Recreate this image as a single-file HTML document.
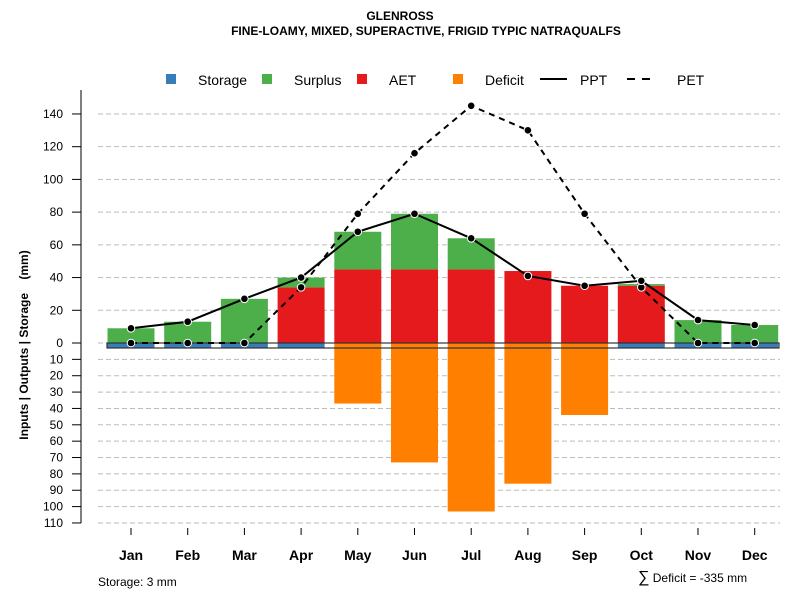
<!DOCTYPE html>
<html><head><meta charset="utf-8"><style>
html,body{margin:0;padding:0;background:#fff}
svg{display:block;font-family:"Liberation Sans",Arial,sans-serif}
</style></head><body>
<svg id="c" width="800" height="600" xmlns="http://www.w3.org/2000/svg">
<text x="400" y="20" text-anchor="middle" font-size="12" font-weight="bold">GLENROSS</text>
<text x="426" y="35" text-anchor="middle" font-size="12" font-weight="bold">FINE-LOAMY, MIXED, SUPERACTIVE, FRIGID TYPIC NATRAQUALFS</text>
<g font-size="14">
<rect x="166" y="74" width="10" height="10" fill="#377eb8"/>
<text x="198" y="85">Storage</text>
<rect x="262" y="74" width="10" height="10" fill="#4daf4a"/>
<text x="294" y="85">Surplus</text>
<rect x="357" y="74" width="10" height="10" fill="#e41a1c"/>
<text x="389" y="85">AET</text>
<rect x="453" y="74" width="10" height="10" fill="#ff7f00"/>
<text x="485" y="85">Deficit</text>
<line x1="540" y1="79" x2="567" y2="79" stroke="#000" stroke-width="2"/>
<text x="580" y="85">PPT</text>
<line x1="627" y1="79" x2="650" y2="79" stroke="#000" stroke-width="2" stroke-dasharray="8,7"/>
<text x="677" y="85">PET</text>
</g>
<text transform="translate(28,345) rotate(-90)" text-anchor="middle" font-size="12" font-weight="bold">Inputs | Outputs | Storage&#160;&#160;&#160;&#160;(mm)</text>
<text x="98" y="586" font-size="12">Storage: 3 mm</text>
<text x="638" y="582" font-size="12"><tspan font-size="16">∑</tspan> Deficit = -335 mm</text>
</svg>
<script>
const months=["Jan","Feb","Mar","Apr","May","Jun","Jul","Aug","Sep","Oct","Nov","Dec"];
const ppt=[9,13,27,40,68,79,64,41,35,38,14,11];
const pet=[0,0,0,34,79,116,145,130,79,34,0,0];
const aet=[0,0,0,34,45,45,45,44,35,35,0,0];
const surplus=[9,13,27,6,23,34,19,0,0,1,14,11];
const deficit=[0,0,0,0,37,73,103,86,44,0,0,0];
const storage=[3,3,3,3,0,0,0,0,0,3,3,3];
const upTicks=[0,20,40,60,80,100,120,140];
const downTicks=[10,20,30,40,50,60,70,80,90,100,110];
const NS="http://www.w3.org/2000/svg";
const svg=document.getElementById('c');
const y0=343,k=1.636;
function yUp(v){return y0-v*k;}
function yDn(v){return y0+v*k;}
function xC(i){return 131+i*56.7;}
const bw=47;
function mk(tag,attrs,parent){const e=document.createElementNS(NS,tag);for(const a in attrs)e.setAttribute(a,attrs[a]);(parent||svg).appendChild(e);return e;}
const grid=mk('g',{});


const axis=mk('g',{});


mk('line',{x1:81,y1:90,x2:81,y2:523,stroke:'#555','stroke-width':1.5},axis);
function tick(y,label){
  const g=mk('line',{x1:98,y1:y,x2:780,y2:y,stroke:'#bbb','stroke-dasharray':'5,3'},grid);
  
  
  mk('line',{x1:72,y1:y,x2:81,y2:y,stroke:'#000'},axis);
  const t=mk('text',{x:63,y:y+4,'text-anchor':'end','font-size':12},axis);t.textContent=label;
  
  
}
upTicks.forEach(v=>tick(yUp(v),String(v)));
downTicks.forEach(v=>tick(yDn(v),String(v)));
const bars=mk('g',{});


months.forEach((m,i)=>{
  const x=xC(i)-bw/2;
  if(aet[i]>0){const r=mk('rect',{x:x,y:yUp(aet[i]),width:bw,height:aet[i]*k,fill:'#e41a1c'},bars);}
  if(surplus[i]>0){const r=mk('rect',{x:x,y:yUp(aet[i]+surplus[i]),width:bw,height:surplus[i]*k,fill:'#4daf4a'},bars);}
  if(deficit[i]>0){const r=mk('rect',{x:x,y:y0,width:bw,height:deficit[i]*k,fill:'#ff7f00'},bars);}
  if(storage[i]>0){const r=mk('rect',{x:x,y:y0,width:bw,height:storage[i]*k,fill:'#377eb8'},bars);}
  const tl=mk('line',{x1:xC(i),y1:528,x2:xC(i),y2:535,stroke:'#000'});
  
  
  const t=mk('text',{x:xC(i),y:560,'text-anchor':'middle','font-size':14,'font-weight':'bold'});t.textContent=m;
  
  
});
const sb=mk('rect',{x:107,y:y0,width:672,height:5,fill:'none',stroke:'#333','stroke-width':1.2});


function series(vals,dash,name){
  const pts=vals.map((v,i)=>xC(i)+','+yUp(v)).join(' ');
  const p=mk('polyline',{points:pts,fill:'none',stroke:'#000','stroke-width':2,'stroke-dasharray':dash});
  
  
  vals.forEach((v,i)=>{const c=mk('circle',{cx:xC(i),cy:yUp(v),r:3.8,fill:'#000',stroke:'#fff','stroke-width':1});
    
    });
}
series(pet,'6,5','pet');
series(ppt,'none','ppt');
</script>
</body></html>
